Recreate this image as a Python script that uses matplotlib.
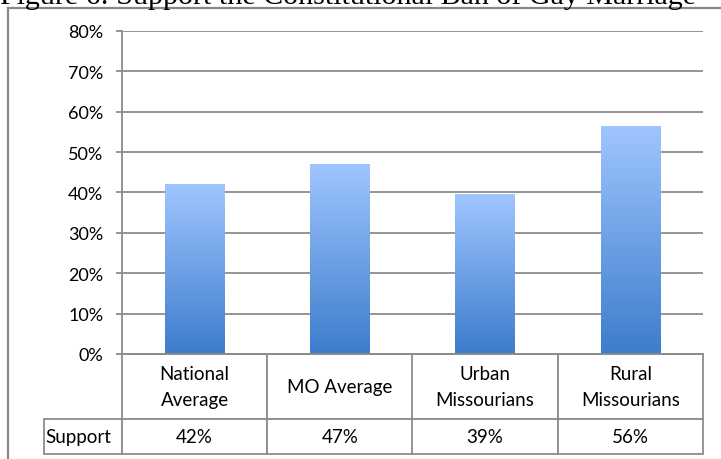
import numpy as np
import matplotlib.pyplot as plt
from matplotlib.lines import Line2D
from matplotlib.table import Table
from matplotlib.colors import LinearSegmentedColormap

categories = ["National\nAverage", "MO Average", "Urban\nMissourians", "Rural\nMissourians"]
support = [42, 47, 39.5, 56.3]
support_labels = ["42%", "47%", "39%", "56%"]
row_label = "Support"
yticks = [0, 10, 20, 30, 40, 50, 60, 70, 80]
title = "Figure 6: Support the Constitutional Ban of Gay Marriage"

plt.rcParams['font.family'] = ['Lato', 'DejaVu Sans']
grey = '#8c8c8c'

fig = plt.figure(figsize=(7.21, 4.6), dpi=100)
ax = fig.add_axes([122 / 721, 1 - 355 / 460, 581 / 721, 323 / 460])

x = np.arange(len(categories))
bars = ax.bar(x, support, width=0.41, color='none', edgecolor='none')

# vertical gradient for each bar
cmap = LinearSegmentedColormap.from_list('bar', ['#3d7dcc', '#9fc5ff'])
grad = np.linspace(0, 1, 256).reshape(-1, 1)
for b in bars:
    x0, w, h = b.get_x(), b.get_width(), b.get_height()
    ax.imshow(grad, cmap=cmap, origin='lower', aspect='auto',
              extent=(x0, x0 + w, 0, h), zorder=2)

ax.set_xlim(-0.5, len(categories) - 0.5)
ax.set_ylim(0, 80)
ax.set_yticks(yticks)
ax.set_yticklabels([f"{t}%" for t in yticks], fontsize=13)
ax.set_xticks([])
ax.yaxis.grid(True, color=grey, lw=1.3)
ax.set_axisbelow(True)
ax.tick_params(axis='y', length=4.5, width=1.3, color=grey, pad=9)
for s in ['top', 'right']:
    ax.spines[s].set_visible(False)
ax.spines['left'].set_color(grey)
ax.spines['left'].set_linewidth(1.3)
ax.spines['bottom'].set_color(grey)
ax.spines['bottom'].set_linewidth(1.3)

# data table under the axis
tbl = Table(ax, bbox=[-78 / 581, -100 / 323, (581 + 78) / 581, 100 / 323])
tbl.auto_set_font_size(False)
for j, (cat, val) in enumerate(zip(categories, support_labels)):
    tbl.add_cell(0, j + 1, width=145.25, height=65, text=cat, loc='center')
    tbl.add_cell(1, j + 1, width=145.25, height=35, text=val, loc='center')
tbl.add_cell(1, 0, width=78, height=35, text=row_label, loc='left')
tbl.add_cell(0, 0, width=78, height=65, text='', edgecolor='none', facecolor='none')
for (r, c), cell in tbl.get_celld().items():
    if (r, c) != (0, 0):
        cell.set_edgecolor(grey)
    cell.set_linewidth(1.3)
    cell.set_text_props(fontsize=13.5, linespacing=1.6)
    if c == 0:
        cell.PAD = 0.02
ax.add_table(tbl)

# outer frame and clipped title
fig.add_artist(Line2D([7.5 / 721, 7.5 / 721], [0, 1 - 9 / 460],
                      transform=fig.transFigure, color='#888888', lw=1.6))
fig.add_artist(Line2D([7.5 / 721, 1], [1 - 9 / 460, 1 - 9 / 460],
                      transform=fig.transFigure, color='#888888', lw=1.6))
fig.text(0.0, 1 - 4.5 / 460, title, family='Liberation Serif', fontsize=21.6,
         va='baseline', ha='left')

fig.savefig('out.png', dpi=100)
